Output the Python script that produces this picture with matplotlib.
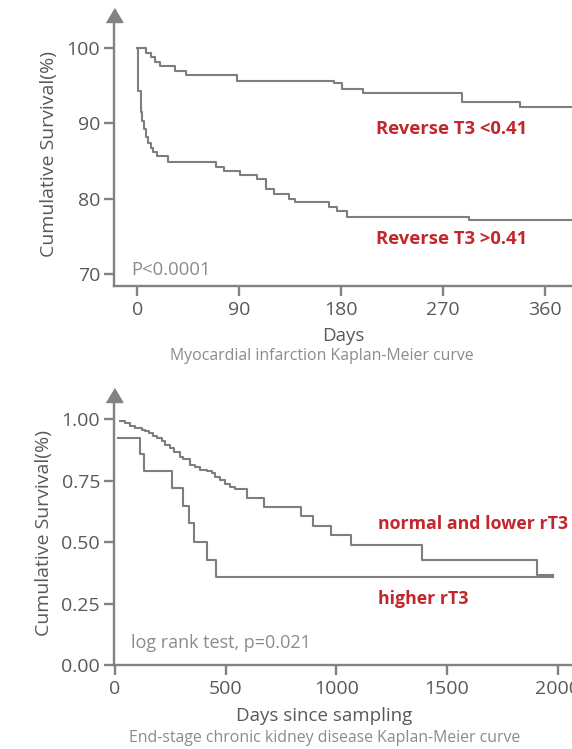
import numpy as np
import matplotlib
matplotlib.use("Agg")
import matplotlib.pyplot as plt

plt.rcParams["font.family"] = ["Open Sans", "DejaVu Sans"]

# ---- Myocardial infarction (days, survival %) ----
MI_LOW_T = [0, 8, 12, 16, 20, 33, 43, 88, 174, 181, 199, 287, 338, 400]
MI_LOW_S = [100, 99.3, 98.7, 98.1, 97.6, 96.95, 96.4, 95.6, 95.3, 94.5, 94.0,
            92.85, 92.15, 92.15]
MI_HIGH_T = [0, 0.8, 3, 4.4, 6.2, 7.7, 9.7, 11.8, 14.1, 17, 27.4, 69.5, 76.4,
             90.5, 105.2, 114, 120.8, 134, 139, 169.5, 176.5, 184.8, 293, 400]
MI_HIGH_S = [100, 94.3, 91.5, 90.3, 89.2, 88.2, 87.3, 86.7, 86.1, 85.6, 84.8,
             84.2, 83.7, 83.05, 82.6, 81.25, 80.6, 80.0, 79.5, 78.9, 78.3,
             77.6, 77.2, 77.2]
MI_XTICKS = [0, 90, 180, 270, 360]
MI_YTICKS = [70, 80, 90, 100]

# ---- End-stage CKD (days since sampling, survival fraction) ----
CKD_LOW_T = [22, 45, 68, 90, 120, 136, 155, 170, 188, 211, 226, 248, 267, 294,
             309, 339, 361, 384, 414, 437, 452, 474, 497, 520, 542, 595, 673,
             839, 896, 976, 1066, 1389, 1908, 1981]
CKD_LOW_S = [0.995, 0.984, 0.974, 0.967, 0.959, 0.952, 0.943, 0.932, 0.923,
             0.912, 0.895, 0.882, 0.868, 0.848, 0.837, 0.814, 0.805, 0.796,
             0.790, 0.780, 0.766, 0.753, 0.737, 0.723, 0.716, 0.682, 0.644,
             0.606, 0.567, 0.529, 0.488, 0.427, 0.366, 0.366]
CKD_HIGH_T = [15, 112, 132, 257, 309, 336, 357, 414, 456, 1981]
CKD_HIGH_S = [0.925, 0.860, 0.789, 0.722, 0.647, 0.577, 0.499, 0.427, 0.357,
              0.357]
CKD_XTICKS = [0, 500, 1000, 1500, 2000]
CKD_YTICKS = [0.00, 0.25, 0.50, 0.75, 1.00]

AX_GREY = "#808285"
LINE_GREY = "#7d7e80"
TXT_GREY = "#58595b"
NOTE_GREY = "#8a8b8d"
RED = "#c1272d"
ARROW = [(-0.6, 0.0), (0.6, 0.0), (0.0, 1.0)]


def style_axes(ax, xticks, yticks, xlabels, ylabels):
    for side in ("top", "right"):
        ax.spines[side].set_visible(False)
    for side in ("left", "bottom"):
        ax.spines[side].set_color(AX_GREY)
        ax.spines[side].set_linewidth(1.7)
    ax.set_xticks(xticks)
    ax.set_xticklabels(xlabels)
    ax.set_yticks(yticks)
    ax.set_yticklabels(ylabels)
    ax.tick_params(axis="both", colors=AX_GREY, width=1.7, length=7,
                   labelsize=14, labelcolor=TXT_GREY)
    ax.tick_params(axis="x", pad=4)
    ax.tick_params(axis="y", pad=3)
    ax.set_ylabel("Cumulative Survival(%)", fontsize=14, color=TXT_GREY,
                  labelpad=6)
    # arrow head on top of y axis
    ax.plot([0], [1], marker=ARROW, markersize=20, color=AX_GREY,
            transform=ax.transAxes, clip_on=False)


fig = plt.figure(figsize=(5.72, 7.49), dpi=100)

# top panel -----------------------------------------------------------------
ax1 = fig.add_axes([0.1993, 0.6182, 0.8007, 0.3525])
ax1.step(MI_LOW_T, MI_LOW_S, where="post", color=LINE_GREY, lw=1.5)
ax1.step(MI_HIGH_T, MI_HIGH_S, where="post", color=LINE_GREY, lw=1.5)
ax1.set_xlim(-20.6, 383.7)
ax1.set_ylim(68.41, 103.4)
style_axes(ax1, MI_XTICKS, MI_YTICKS, [str(v) for v in MI_XTICKS],
           [str(v) for v in MI_YTICKS])
ax1.text(0.037, 0.06, "P<0.0001", transform=ax1.transAxes, fontsize=13.3,
         color=NOTE_GREY, ha="left", va="center")
ax1.text(277, 89.2, "Reverse T3 <0.41", fontsize=13.3, fontweight="bold",
         color=RED, ha="center", va="center")
ax1.text(277, 74.7, "Reverse T3 >0.41", fontsize=13.3, fontweight="bold",
         color=RED, ha="center", va="center")
fig.text(343 / 572, 1 - 336 / 749, "Days", fontsize=13.5, color=TXT_GREY,
         ha="center", va="center")
fig.text(322 / 572, 1 - 356 / 749, "Myocardial infarction Kaplan-Meier curve",
         fontsize=11.4, color=NOTE_GREY, ha="center", va="center")

# bottom panel --------------------------------------------------------------
ax2 = fig.add_axes([0.1993, 0.1121, 0.8007, 0.3515])
ax2.step(CKD_LOW_T, CKD_LOW_S, where="post", color=LINE_GREY, lw=1.5)
ax2.step(CKD_HIGH_T, CKD_HIGH_S, where="post", color=LINE_GREY, lw=1.5)
ax2.set_xlim(-4.5, 2065)
ax2.set_ylim(0, 1.072)
style_axes(ax2, CKD_XTICKS, CKD_YTICKS, [str(v) for v in CKD_XTICKS],
           ["%.2f" % v for v in CKD_YTICKS])
ax2.text(0.037, 0.083, "log rank test, p=0.021", transform=ax2.transAxes,
         fontsize=13, color=NOTE_GREY, ha="left", va="center")
ax2.text(1187, 0.574, "normal and lower rT3", fontsize=12.8,
         fontweight="bold", color=RED, ha="left", va="center")
ax2.text(1187, 0.269, "higher rT3", fontsize=12.8, fontweight="bold",
         color=RED, ha="left", va="center")
fig.text(324 / 572, 1 - 716 / 749, "Days since sampling", fontsize=13.5,
         color=TXT_GREY, ha="center", va="center")
fig.text(325 / 572, 1 - 738 / 749,
         "End-stage chronic kidney disease Kaplan-Meier curve",
         fontsize=11.4, color=NOTE_GREY, ha="center", va="center")

fig.savefig("out.png", dpi=100)
